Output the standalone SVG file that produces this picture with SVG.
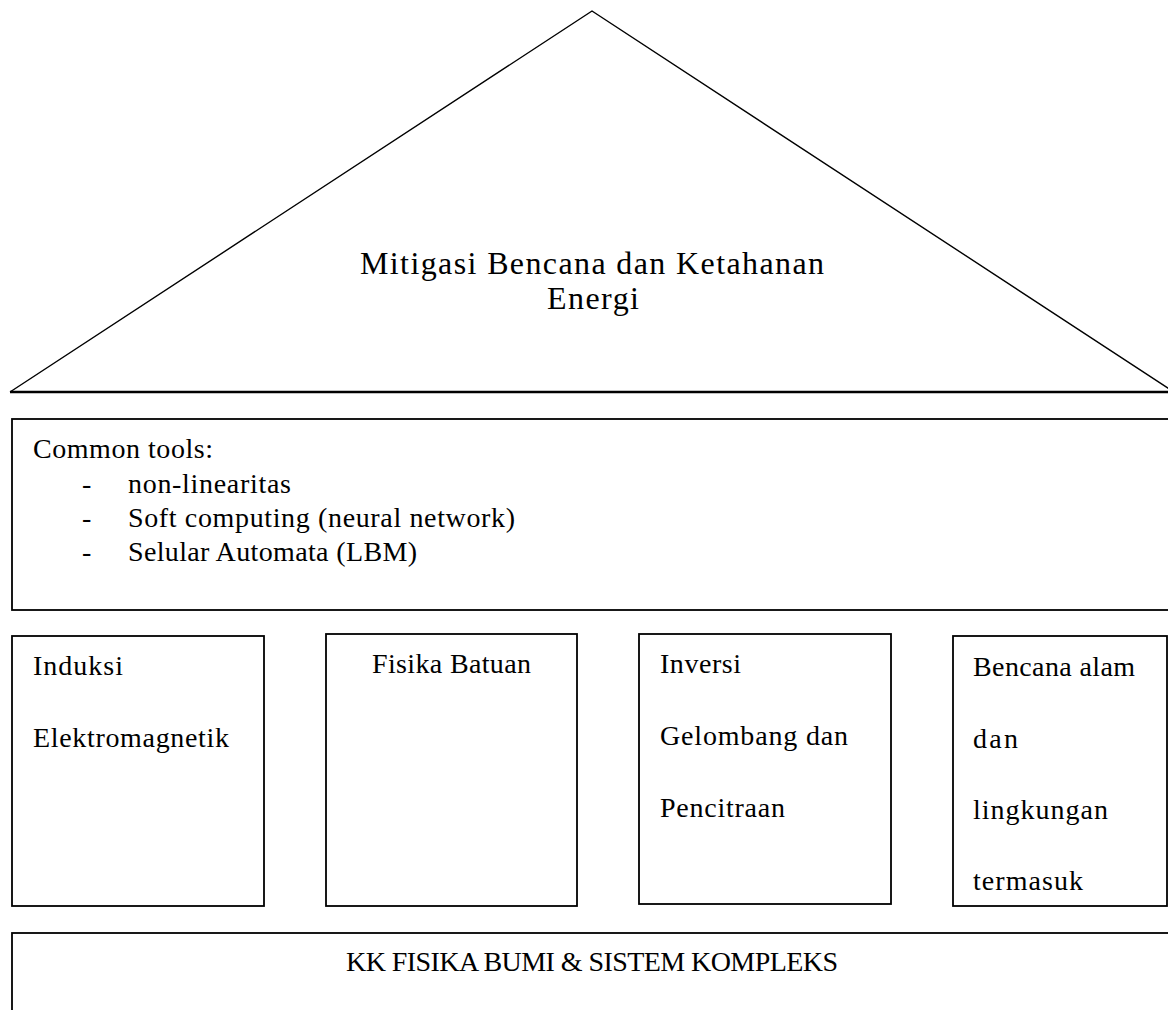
<svg xmlns="http://www.w3.org/2000/svg" width="1168" height="1010" viewBox="0 0 1168 1010">
<style>
  .bg { fill: #ffffff; }
  .box { fill: #ffffff; stroke: #000000; stroke-width: 1.8; }
  .tri { fill: #ffffff; stroke: #000000; stroke-width: 1.4; stroke-linejoin: miter; }
  .base { stroke: #000000; stroke-width: 2.5; }
  text { font-family: "Liberation Serif", "Times New Roman", serif; fill: #000000; font-size: 28px; }
  .title { font-size: 32px; }
</style>
<rect class="bg" x="0" y="0" width="1168" height="1010"/>

<g id="roof">
  <polyline class="tri" points="10,392 592,11 1174,392"/>
  <line class="base" x1="10" y1="392" x2="1168" y2="392"/>
  <text class="title" x="360" y="274" textLength="464" lengthAdjust="spacing">Mitigasi Bencana dan Ketahanan</text>
  <text class="title" x="547" y="309" textLength="92" lengthAdjust="spacing">Energi</text>
</g>

<g id="common-tools">
  <rect class="box" x="12" y="419" width="1170" height="191"/>
  <text x="33" y="458" textLength="180" lengthAdjust="spacing">Common tools:</text>
  <text x="82" y="493">-</text>
  <text x="128" y="493" textLength="163" lengthAdjust="spacing">non-linearitas</text>
  <text x="82" y="527">-</text>
  <text x="128" y="527" textLength="387" lengthAdjust="spacing">Soft computing (neural network)</text>
  <text x="82" y="561">-</text>
  <text x="128" y="561" textLength="289" lengthAdjust="spacing">Selular Automata (LBM)</text>
</g>

<g id="induksi">
  <rect class="box" x="12" y="636" width="252" height="270"/>
  <text x="33" y="675" textLength="90" lengthAdjust="spacing">Induksi</text>
  <text x="33" y="747" textLength="196" lengthAdjust="spacing">Elektromagnetik</text>
</g>

<g id="fisika-batuan">
  <rect class="box" x="326" y="634" width="251" height="272"/>
  <text x="372" y="673" textLength="159" lengthAdjust="spacing">Fisika Batuan</text>
</g>

<g id="inversi">
  <rect class="box" x="639" y="634" width="252" height="270"/>
  <text x="660" y="673" textLength="81" lengthAdjust="spacing">Inversi</text>
  <text x="660" y="745" textLength="188" lengthAdjust="spacing">Gelombang dan</text>
  <text x="660" y="817" textLength="125" lengthAdjust="spacing">Pencitraan</text>
</g>

<g id="bencana">
  <rect class="box" x="953" y="636" width="214" height="270"/>
  <text x="973" y="676" textLength="162" lengthAdjust="spacing">Bencana alam</text>
  <text x="973" y="748" textLength="45" lengthAdjust="spacing">dan</text>
  <text x="973" y="819" textLength="135" lengthAdjust="spacing">lingkungan</text>
  <text x="973" y="890" textLength="110" lengthAdjust="spacing">termasuk</text>
</g>

<g id="kk-fisika-bumi">
  <rect class="box" x="12" y="933" width="1170" height="100"/>
  <text x="346" y="971" textLength="492" lengthAdjust="spacing">KK FISIKA BUMI &amp; SISTEM KOMPLEKS</text>
</g>

<g id="connectors"></g>
</svg>
